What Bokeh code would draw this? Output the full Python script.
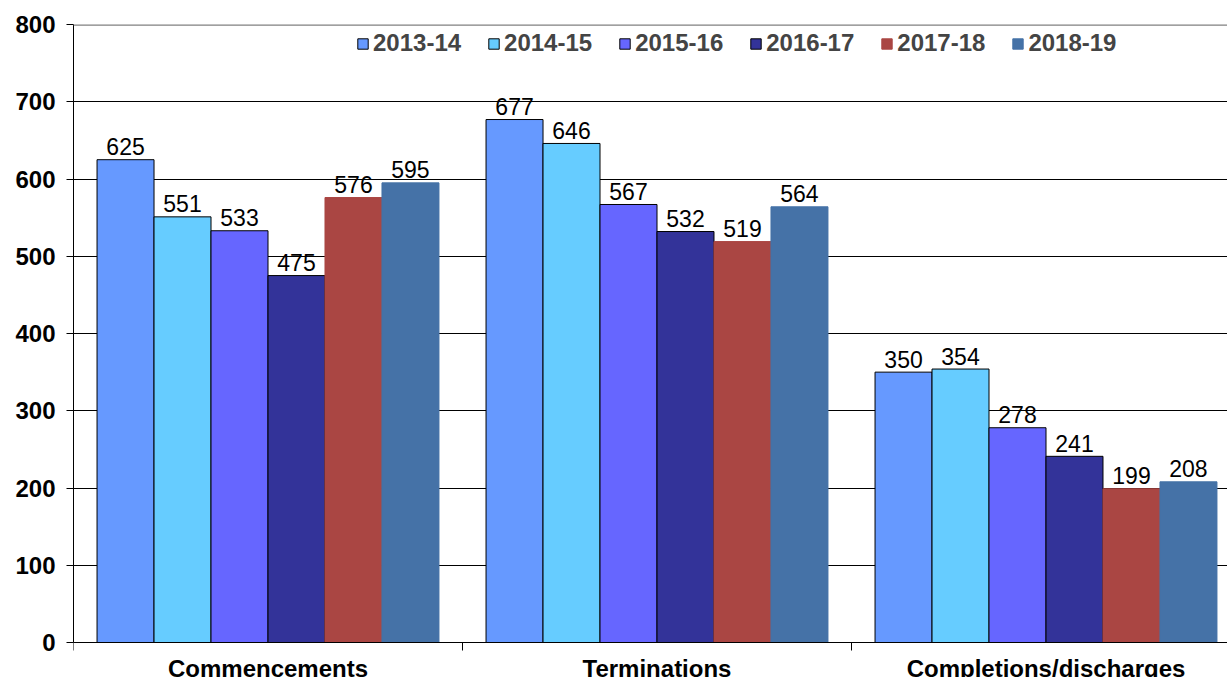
import math
from bokeh.plotting import figure
from bokeh.models import Range1d, FixedTicker, Legend, LegendItem, Span, ColumnDataSource
from bokeh.core.properties import value
from bokeh.embed import file_html
from bokeh.resources import INLINE

categories = ["Commencements", "Terminations", "Completions/discharges"]
years = ["2013-14", "2014-15", "2015-16", "2016-17", "2017-18", "2018-19"]
values_2013_14 = [625, 677, 350]
values_2014_15 = [551, 646, 354]
values_2015_16 = [533, 567, 278]
values_2016_17 = [475, 532, 241]
values_2017_18 = [576, 519, 199]
values_2018_19 = [595, 564, 208]
series = [values_2013_14, values_2014_15, values_2015_16, values_2016_17, values_2017_18, values_2018_19]
colors = ["#6699FF", "#66CCFF", "#6666FF", "#333399", "#AA4643", "#4572A7"]
outlines = ["black", "black", "black", "black", "#AA4643", "#4572A7"]
y_ticks = [0, 100, 200, 300, 400, 500, 600, 700, 800]

FONT = "Liberation Sans"
W, H = 1227, 677
LEFT, TOP, ZERO_PX = 73, 24, 642
px_per_unit = (ZERO_PX - TOP) / 800.0
y_min = -(H - ZERO_PX) / px_per_unit

p = figure(width=W, height=H, output_backend="svg", toolbar_location=None,
           x_range=Range1d(0, (W - LEFT) / 389.0), y_range=Range1d(y_min, 800),
           x_axis_location=None,
           min_border_left=LEFT, min_border_right=0, min_border_top=TOP, min_border_bottom=0)
p.outline_line_color = None
p.background_fill_color = "white"

p.ygrid.ticker = FixedTicker(ticks=y_ticks)
p.ygrid.grid_line_color = "black"
p.ygrid.grid_line_width = 1
p.xgrid.grid_line_color = None

bw = 0.1465
items = []
for i, (yr, vals) in enumerate(zip(years, series)):
    xs = [c + 0.5 + (i - 2.5) * bw for c in range(len(categories))]
    src = ColumnDataSource(dict(x=xs, top=vals, lab=[str(v) for v in vals]))
    r = p.vbar(x="x", top="top", width=bw, bottom=0, source=src,
               fill_color=colors[i], line_color=outlines[i], line_width=1)
    p.text(x="x", y="top", text="lab", source=src, text_align="center",
           text_baseline="middle", y_offset=-13, text_font=value(FONT),
           text_font_size="23px", text_color="black")
    items.append(LegendItem(label=yr, renderers=[r]))

# x axis line, boundary ticks and category labels
p.add_layout(Span(location=0, dimension="width", line_color="black", line_width=1))
p.add_layout(Span(location=800, dimension="width", line_color="#808080", line_width=2.5))
bounds = list(range(len(categories) + 1))
p.ray(x=bounds, y=[0] * len(bounds), length=8, length_units="screen",
      angle=-math.pi / 2, line_color="black", line_width=1)
p.text(x=[i + 0.5 for i in range(len(categories))], y=[0] * len(categories), text=categories,
       text_align="center", text_baseline="middle", y_offset=26, text_font=value(FONT),
       text_font_style="bold", text_font_size="24px", text_color="black")

legend = Legend(items=items, orientation="horizontal", location=(283, 585 + round(H - ZERO_PX)),
                padding=0, margin=0, spacing=26, glyph_width=13, glyph_height=13,
                label_standoff=4, label_text_font=FONT, label_text_font_style="bold",
                label_text_font_size="24px", background_fill_alpha=0, border_line_color=None)
p.add_layout(legend, "center")

ya = p.yaxis[0]
ya.ticker = FixedTicker(ticks=y_ticks)
ya.bounds = (0, 800)
ya.axis_line_color = "black"
ya.major_tick_out = 7
ya.major_tick_in = 0
ya.minor_tick_line_color = None
ya.major_label_standoff = 11
ya.major_label_text_font = FONT
ya.major_label_text_font_style = "bold"
ya.major_label_text_font_size = "24px"
ya.major_label_text_color = "black"

open("out.html", "w").write(file_html(p, INLINE))
